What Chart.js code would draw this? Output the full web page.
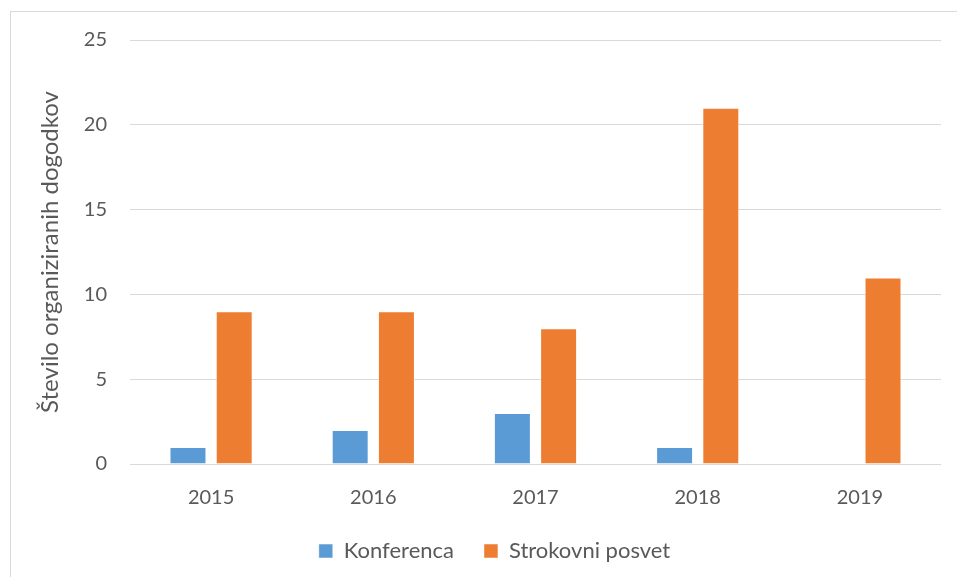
<!DOCTYPE html>
<html>
<head>
<meta charset="utf-8">
<script src="https://cdn.jsdelivr.net/npm/chart.js@4"></script>
<style>
    body { margin: 0; background: #fff; }
    #frame { position: absolute; left: 10px; top: 11px; width: 960px; height: 580px;
             border-left: 1px solid #d9d9d9; border-top: 1px solid #d9d9d9; }
    #wrap { position: absolute; left: 0; top: 0; width: 957px; height: 577px; }
</style>
</head>
<body>
<div id="frame"></div>
<div id="wrap"><canvas id="eventChart"></canvas></div>
<script>
const years = ['2015', '2016', '2017', '2018', '2019'];
const konferenca = [1, 2, 3, 1, 0];
const strokovniPosvet = [9, 9, 8, 21, 11];
const yTicks = [0, 5, 10, 15, 20, 25];

const ctx = document.getElementById('eventChart').getContext('2d');
Chart.defaults.font.family = 'Lato, Carlito, sans-serif';
Chart.defaults.color = '#595959';

// legenda je v originalu nekoliko bolj desno
const shiftLegend = {
    id: 'shiftLegend',
    afterLayout(chart) {
        chart.legend.left += 24;
        chart.legend.right += 24;
    }
};

const eventChart = new Chart(ctx, {
    type: 'bar',
    data: {
        labels: years,
        datasets: [{
            label: 'Konferenca',
            data: konferenca,
            backgroundColor: '#5B9BD5',
            borderColor: 'rgba(255,255,255,0.5)',
            borderWidth: 1,
            categoryPercentage: 0.57,
            barPercentage: 0.8
        }, {
            label: 'Strokovni posvet',
            data: strokovniPosvet,
            backgroundColor: '#ED7D31',
            borderColor: 'rgba(255,255,255,0.5)',
            borderWidth: 1,
            categoryPercentage: 0.57,
            barPercentage: 0.8
        }]
    },
    options: {
        responsive: true,
        maintainAspectRatio: false,
        animation: false,
        layout: { padding: { top: 40, right: 16, bottom: 5, left: 0 } },
        plugins: {
            tooltip: { enabled: false },
            legend: {
                position: 'bottom',
                labels: {
                    boxWidth: 14,
                    boxHeight: 14,
                    padding: 30,
                    color: '#595959',
                    font: { size: 22 }
                }
            }
        },
        scales: {
            x: {
                grid: { display: false },
                border: { display: false },
                ticks: { color: '#595959', font: { size: 20 }, padding: 14 },
                afterFit: s => { s.height = 46; }
            },
            y: {
                min: 0,
                max: 25,
                afterBuildTicks: s => { s.ticks = yTicks.map(v => ({ value: v })); },
                grid: { color: '#d9d9d9', lineWidth: 1, drawTicks: false },
                border: { display: false },
                ticks: { color: '#595959', font: { size: 20 }, padding: 23 },
                title: {
                    display: true,
                    text: 'Število organiziranih dogodkov',
                    color: '#595959',
                    font: { size: 24 },
                    padding: { top: 36, bottom: 0 }
                },
                afterFit: s => { s.width = 130; }
            }
        }
    },
    plugins: [shiftLegend]
});
</script>
</body>
</html>
